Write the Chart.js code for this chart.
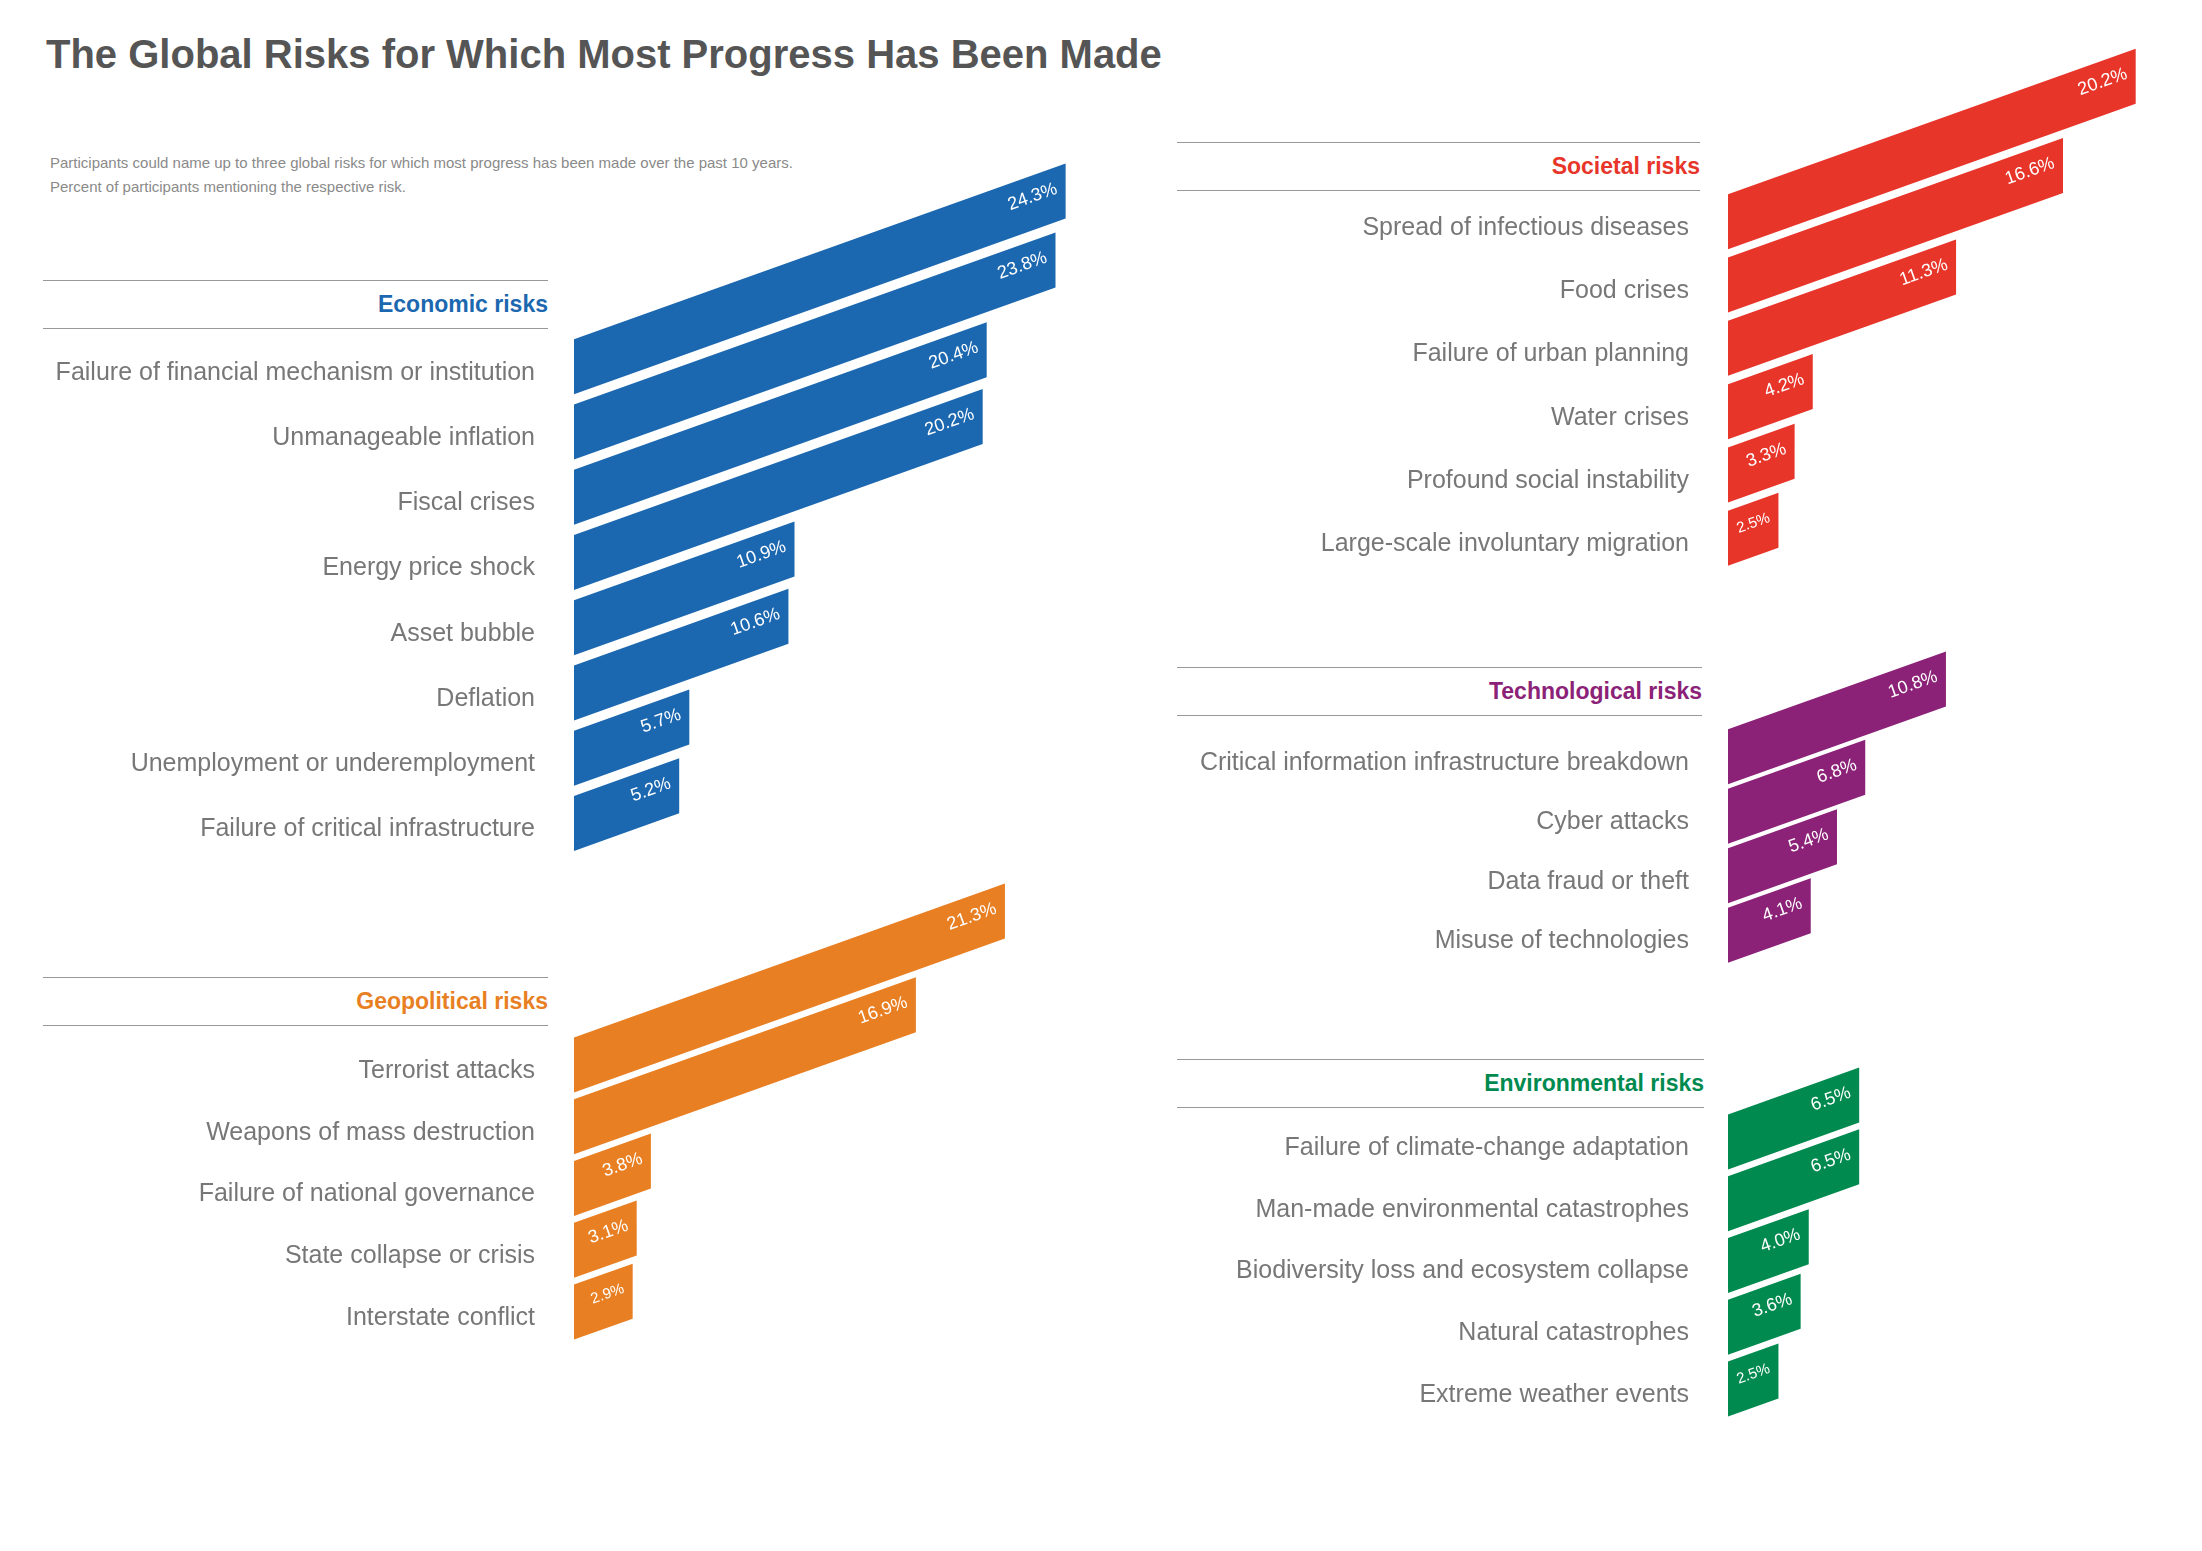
<!DOCTYPE html>
<html>
<head>
<meta charset="utf-8">
<script src="https://cdn.jsdelivr.net/npm/chart.js@4"></script>
<style>
  body { margin: 0; width: 2202px; height: 1551px; background: #fff; position: relative; overflow: hidden; font-family: 'Liberation Sans', Arial, sans-serif; }
  h1 { position: absolute; left: 46px; top: 32px; margin: 0; font-size: 40px; font-weight: bold; color: #555; }
  .sub { position: absolute; left: 50px; top: 151px; font-size: 15px; line-height: 24px; color: #8a8a8a; }
  .head { position: absolute; border-top: 1.5px solid #999; border-bottom: 1.5px solid #999; height: 47px; text-align: right; font-weight: bold; font-size: 23px; line-height: 47px; }
  canvas { position: absolute; }
</style>
</head>
<body>
<h1>The Global Risks for Which Most Progress Has Been Made</h1>
<div class="sub">Participants could name up to three global risks for which most progress has been made over the past 10 years.<br>Percent of participants mentioning the respective risk.</div>

<script>
// Données (pourcentage de participants)
const economicLabels = ['Failure of financial mechanism or institution', 'Unmanageable inflation', 'Fiscal crises', 'Energy price shock', 'Asset bubble', 'Deflation', 'Unemployment or underemployment', 'Failure of critical infrastructure'];
const economicValues = [24.3, 23.8, 20.4, 20.2, 10.9, 10.6, 5.7, 5.2];

const geopoliticalLabels = ['Terrorist attacks', 'Weapons of mass destruction', 'Failure of national governance', 'State collapse or crisis', 'Interstate conflict'];
const geopoliticalValues = [21.3, 16.9, 3.8, 3.1, 2.9];

const societalLabels = ['Spread of infectious diseases', 'Food crises', 'Failure of urban planning', 'Water crises', 'Profound social instability', 'Large-scale involuntary migration'];
const societalValues = [20.2, 16.6, 11.3, 4.2, 3.3, 2.5];

const technologicalLabels = ['Critical information infrastructure breakdown', 'Cyber attacks', 'Data fraud or theft', 'Misuse of technologies'];
const technologicalValues = [10.8, 6.8, 5.4, 4.1];

const environmentalLabels = ['Failure of climate-change adaptation', 'Man-made environmental catastrophes', 'Biodiversity loss and ecosystem collapse', 'Natural catastrophes', 'Extreme weather events'];
const environmentalValues = [6.5, 6.5, 4.0, 3.6, 2.5];

const ROW = 71;       // espacement des lignes
const PAD_TOP = 220;  // place pour la pente des barres
const SLOPE = 0.357;
const BAR_H = 55;

// Plugin qui dessine chaque barre comme un parallélogramme incliné
const parallelogramme = {
  id: 'parallelogramme',
  afterDatasetsDraw(chart) {
    const ctx = chart.ctx;
    const meta = chart.getDatasetMeta(0);
    const couleur = chart.data.datasets[0].fillColor;
    const valeurs = chart.data.datasets[0].data;
    meta.data.forEach((el, i) => {
      const x0 = el.base, x1 = el.x, yc = el.y - 6;
      const rise = SLOPE * (x1 - x0);
      ctx.save();
      ctx.fillStyle = couleur;
      ctx.beginPath();
      ctx.moveTo(x0, yc - BAR_H / 2);
      ctx.lineTo(x1, yc - BAR_H / 2 - rise);
      ctx.lineTo(x1, yc + BAR_H / 2 - rise);
      ctx.lineTo(x0, yc + BAR_H / 2);
      ctx.closePath();
      ctx.fill();
      // étiquette de valeur
      const tx = x1 - 9;
      const ty = yc - SLOPE * (tx - x0) - 6;
      ctx.translate(tx, ty);
      ctx.rotate(-Math.atan(SLOPE));
      ctx.fillStyle = '#fff';
      ctx.font = (valeurs[i] < 3 ? '15px' : '18px') + " 'Liberation Sans', Arial, sans-serif";
      ctx.textAlign = 'right';
      ctx.textBaseline = 'middle';
      ctx.fillText(valeurs[i].toFixed(1) + '%', 0, 0);
      ctx.restore();
    });
  }
};

function groupe(cfg) {
  // en-tête avec les deux lignes
  const h = document.createElement('div');
  h.className = 'head';
  h.style.left = cfg.headLeft + 'px';
  h.style.top = cfg.headTop + 'px';
  h.style.width = cfg.headWidth + 'px';
  h.style.color = cfg.color;
  h.textContent = cfg.title;
  document.body.appendChild(h);

  const c = document.createElement('canvas');
  const height = PAD_TOP + cfg.labels.length * ROW;
  c.style.left = cfg.left + 'px';
  c.style.top = (cfg.firstRow - ROW / 2 - PAD_TOP) + 'px';
  c.style.width = cfg.width + 'px';
  c.style.height = height + 'px';
  c.width = cfg.width;
  c.height = height;
  document.body.appendChild(c);

  new Chart(c, {
    type: 'bar',
    data: {
      labels: cfg.labels,
      datasets: [{ data: cfg.values, backgroundColor: 'rgba(0,0,0,0)', fillColor: cfg.color }]
    },
    options: {
      indexAxis: 'y',
      responsive: false,
      animation: false,
      layout: { padding: { top: PAD_TOP, right: 0, left: 0, bottom: 0 } },
      plugins: { legend: { display: false }, tooltip: { enabled: false } },
      scales: {
        x: { display: false, min: 0, max: cfg.xMax },
        y: {
          grid: { display: false },
          border: { display: false },
          ticks: { color: '#777', padding: 31, font: { size: 25, family: "'Liberation Sans', Arial, sans-serif" } },
          afterFit(scale) { scale.width = cfg.axisWidth; }
        }
      }
    },
    plugins: [parallelogramme]
  });
}

groupe({ title: 'Economic risks', color: '#1c68b0', labels: economicLabels, values: economicValues,
  headLeft: 43, headTop: 280, headWidth: 505, firstRow: 375, left: 0, width: 1100, axisWidth: 574, xMax: 26 });
groupe({ title: 'Geopolitical risks', color: '#e87f22', labels: geopoliticalLabels, values: geopoliticalValues,
  headLeft: 43, headTop: 977, headWidth: 505, firstRow: 1075, left: 0, width: 1100, axisWidth: 574, xMax: 26 });
groupe({ title: 'Societal risks', color: '#e8352a', labels: societalLabels, values: societalValues,
  headLeft: 1177, headTop: 142, headWidth: 523, firstRow: 231, left: 1100, width: 1072, axisWidth: 628, xMax: 22 });
groupe({ title: 'Technological risks', color: '#8b2277', labels: technologicalLabels, values: technologicalValues,
  headLeft: 1177, headTop: 667, headWidth: 525, firstRow: 768, left: 1100, width: 1072, axisWidth: 628, xMax: 22 });
groupe({ title: 'Environmental risks', color: '#008a4f', labels: environmentalLabels, values: environmentalValues,
  headLeft: 1177, headTop: 1059, headWidth: 527, firstRow: 1152, left: 1100, width: 1072, axisWidth: 628, xMax: 22 });
</script>
</body>
</html>
